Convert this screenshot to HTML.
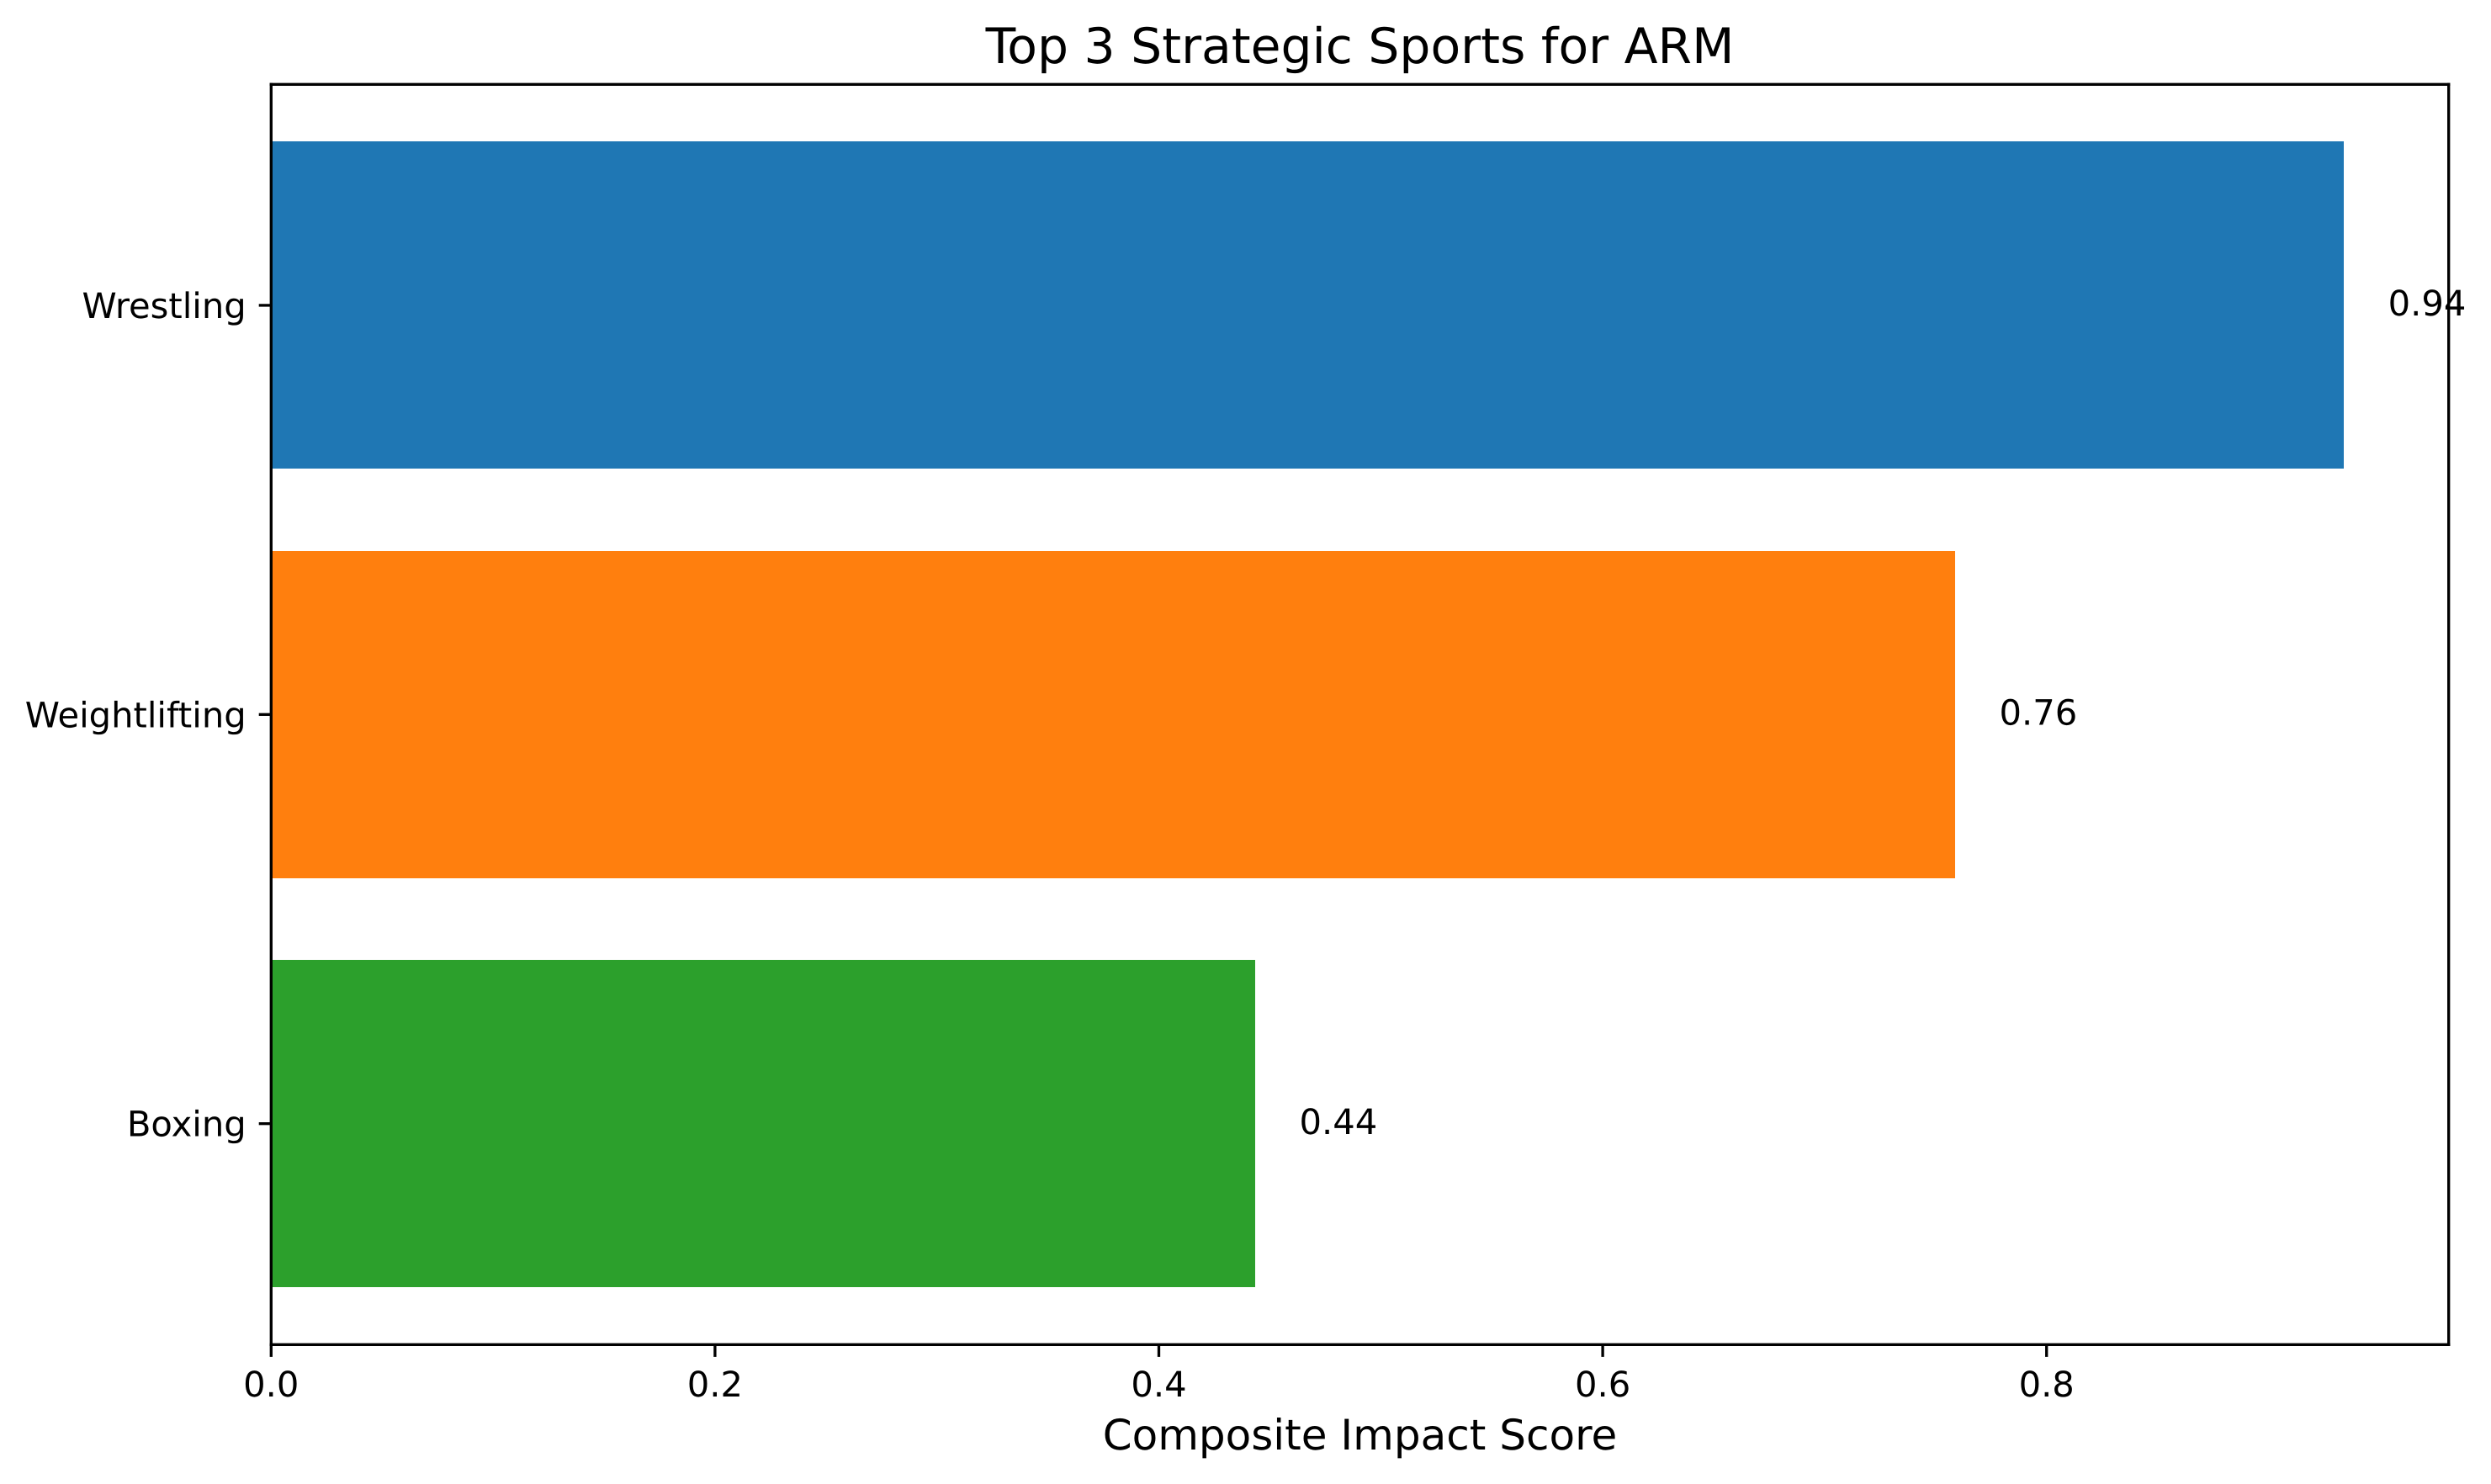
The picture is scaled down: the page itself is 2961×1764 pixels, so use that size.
<!DOCTYPE html>
<html lang="en">
<head>
<meta charset="utf-8">
<title>Top 3 Strategic Sports for ARM</title>
<style>
  html, body { margin: 0; padding: 0; background: #ffffff; width: 2961px; height: 1764px; overflow: hidden; }
  svg { display: block; }
  text { font-family: "DejaVu Sans", "Liberation Sans", sans-serif; fill: #000000; text-rendering: geometricPrecision; }
</style>
</head>
<body>
<svg id="chart" xmlns="http://www.w3.org/2000/svg" width="2961" height="1764" viewBox="0 0 2961 1764">
  <rect x="0" y="0" width="2961" height="1764" fill="#ffffff"/>
  <g id="bars"></g>
  <g id="y-axis"></g>
  <g id="x-axis"></g>
  <g stroke="#000000" stroke-width="3.33" stroke-linecap="square" fill="none">
    <line x1="322.3" y1="100.3" x2="322.3" y2="1598.3"/>
    <line x1="2910.7" y1="100.3" x2="2910.7" y2="1598.3"/>
    <line x1="322.3" y1="100.3" x2="2910.7" y2="100.3"/>
    <line x1="322.3" y1="1598.3" x2="2910.7" y2="1598.3"/>
  </g>
  <g id="value-labels"></g>
  <text x="1616.5" y="75" font-size="58.33" text-anchor="middle">Top 3 Strategic Sports for ARM</text>
  <text x="1616.5" y="1723" font-size="50" text-anchor="middle">Composite Impact Score</text>
</svg>
<script>
const categories = ['Boxing', 'Weightlifting', 'Wrestling'];
const scores = [0.4434, 0.7588, 0.934];
const valueLabels = ['0.44', '0.76', '0.94'];
const barColors = ['#2ca02c', '#ff7f0e', '#1f77b4'];
const xTickValues = [0, 0.2, 0.4, 0.6, 0.8];
const xTickLabels = ['0.0', '0.2', '0.4', '0.6', '0.8'];
const xDomain = [0, 0.9812];
const yDomain = [-0.54, 2.54];
const barHeight = 0.8;

const plot = { left: 322.3, right: 2910.7, top: 100.3, bottom: 1598.3 };
const SVG_NS = 'http://www.w3.org/2000/svg';

function xScale(v) {
  return plot.left + (v - xDomain[0]) / (xDomain[1] - xDomain[0]) * (plot.right - plot.left);
}
function yScale(v) {
  return plot.bottom - (v - yDomain[0]) / (yDomain[1] - yDomain[0]) * (plot.bottom - plot.top);
}
function make(tag, attrs, parent) {
  const node = document.createElementNS(SVG_NS, tag);
  Object.keys(attrs).forEach(function (k) { node.setAttribute(k, attrs[k]); });
  parent.appendChild(node);
  return node;
}

const barsGroup = document.getElementById('bars');
const yAxisGroup = document.getElementById('y-axis');
const xAxisGroup = document.getElementById('x-axis');
const labelsGroup = document.getElementById('value-labels');

categories.forEach(function (name, i) {
  const top = Math.round(yScale(i + barHeight / 2));
  const bottom = Math.round(yScale(i - barHeight / 2));
  const x0 = xScale(0);
  const x1 = Math.round(xScale(scores[i]));

  const bar = make('rect', { x: x0, y: top, width: x1 - x0, height: bottom - top, fill: barColors[i], 'shape-rendering': 'crispEdges' }, barsGroup);
  
  

  const tick = make('line', { x1: plot.left - 14.6, x2: plot.left, y1: yScale(i), y2: yScale(i), stroke: '#000000', 'stroke-width': 3.33 }, yAxisGroup);
  
  

  const tickLabel = make('text', { x: plot.left - 29.6, y: yScale(i) + 15, 'font-size': 41.67, 'text-anchor': 'end' }, yAxisGroup);
  tickLabel.textContent = name;
  
  

  const valueLabel = make('text', { x: xScale(scores[i]) + 52.5, y: yScale(i) + 12.2, 'font-size': 41.67 }, labelsGroup);
  valueLabel.textContent = valueLabels[i];
  
  
});

xTickValues.forEach(function (v, i) {
  const tick = make('line', { x1: xScale(v), x2: xScale(v), y1: plot.bottom, y2: plot.bottom + 14.6, stroke: '#000000', 'stroke-width': 3.33 }, xAxisGroup);
  
  

  const tickLabel = make('text', { x: xScale(v), y: 1660, 'font-size': 41.67, 'text-anchor': 'middle' }, xAxisGroup);
  tickLabel.textContent = xTickLabels[i];
  
  
});
</script>
</body>
</html>
